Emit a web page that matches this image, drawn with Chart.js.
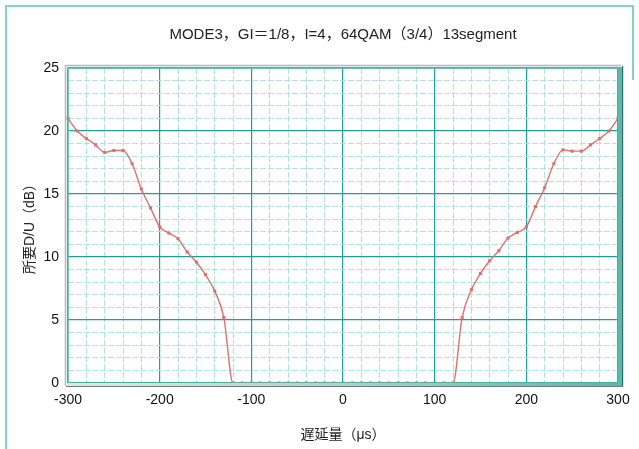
<!DOCTYPE html>
<html>
<head>
<meta charset="utf-8">
<script src="https://cdn.jsdelivr.net/npm/chart.js@4/dist/chart.umd.min.js"></script>
<style>
  html, body { margin: 0; padding: 0; background: #fff; }
  #wrap { width: 639px; height: 449px; position: relative; }
</style>
</head>
<body>
<div id="wrap"><canvas id="chart" width="639" height="449"></canvas></div>
<script>
// delay (us) and required D/U (dB)
const delays = [-300, -290, -280, -270, -260, -250, -240, -230, -220, -210,
  -200, -190, -180, -170, -160, -150, -140, -130, -120, -110,
  -100, -90, -80, -70, -60, -50, -40, -30, -20, -10,
  0, 10, 20, 30, 40, 50, 60, 70, 80, 90,
  100, 110, 120, 130, 140, 150, 160, 170, 180, 190,
  200, 210, 220, 230, 240, 250, 260, 270, 280, 290, 300];
const requiredDU = [21, 20, 19.4, 18.9, 18.3, 18.45, 18.45, 17.4, 15.4, 13.9,
  12.4, 11.9, 11.45, 10.4, 9.6, 8.6, 7.3, 5.2, 0, 0,
  0, 0, 0, 0, 0, 0, 0, 0, 0, 0,
  0, 0, 0, 0, 0, 0, 0, 0, 0, 0,
  0, 0, 0, 5.2, 7.4, 8.7, 9.7, 10.5, 11.5, 11.95,
  12.4, 14.0, 15.5, 17.4, 18.5, 18.4, 18.4, 18.9, 19.4, 20, 21];
const xTickLabels = [-300, -200, -100, 0, 100, 200, 300];
const yTickLabels = [0, 5, 10, 15, 20, 25];

const titleText = "MODE3，GI＝1/8，I=4，64QAM（3/4）13segment";
const FONT = "'Liberation Sans', 'Noto Sans CJK JP', sans-serif";
const MAJOR = "#1d9e96";
const MINOR = "#b3e1dd";

// page border, title over the plot area and the 3d-ish plot frame
const framePlugin = {
  id: "frame",
  beforeDraw(chart) {
    const ctx = chart.ctx;
    ctx.save();
    ctx.fillStyle = "#fff";
    ctx.fillRect(0, 0, chart.width, chart.height);
    ctx.strokeStyle = "#86d0cc";
    ctx.lineWidth = 2;
    ctx.beginPath();
    ctx.moveTo(6, chart.height);
    ctx.lineTo(6, 6);
    ctx.lineTo(633, 6);
    ctx.lineTo(633, 80);
    ctx.stroke();
    const { left, right } = chart.chartArea;
    ctx.fillStyle = "#222";
    ctx.font = "15px " + FONT;
    ctx.textAlign = "center";
    ctx.textBaseline = "middle";
    ctx.fillText(titleText, (left + right) / 2, 35);
    ctx.restore();
  },
  afterDraw(chart) {
    const { left, right, top, bottom } = chart.chartArea;
    const ctx = chart.ctx;
    ctx.save();
    // outer gray edge top/left
    ctx.strokeStyle = "#b8b8b8";
    ctx.lineWidth = 1.5;
    ctx.beginPath();
    ctx.moveTo(left - 2.5, bottom + 3);
    ctx.lineTo(left - 2.5, top - 2.5);
    ctx.lineTo(right + 3, top - 2.5);
    ctx.stroke();
    // teal inner border
    ctx.strokeStyle = "#4fb8ae";
    ctx.lineWidth = 1.5;
    ctx.strokeRect(left, top, right - left, bottom - top);
    // thick right band
    ctx.fillStyle = "#5fb6ac";
    ctx.fillRect(right, top - 1, 4, bottom - top + 4);
    ctx.fillStyle = "#2e6e68";
    ctx.fillRect(right + 4, top - 2, 1.2, bottom - top + 6);
    // bottom band with gradient
    const g = ctx.createLinearGradient(left, 0, right, 0);
    g.addColorStop(0, "#dfe7e6");
    g.addColorStop(0.5, "#a9d3cf");
    g.addColorStop(1, "#5fb6ac");
    ctx.fillStyle = g;
    ctx.fillRect(left - 1, bottom, right - left + 5, 3);
    ctx.fillStyle = "#6f7a79";
    ctx.fillRect(left - 2, bottom + 3, right - left + 7, 1);
    ctx.restore();
  }
};

const isMajorX = v => v % 100 === 0;
const isMajorY = v => v % 5 === 0;

new Chart(document.getElementById("chart"), {
  type: "line",
  data: {
    labels: delays,
    datasets: [{
      data: delays.map((d, i) => ({ x: d, y: requiredDU[i] })),
      borderColor: "#d87470",
      backgroundColor: "#d87470",
      borderWidth: 1.4,
      pointStyle: "rect",
      pointRadius: 2.2,
      pointBorderWidth: 0,
      cubicInterpolationMode: "monotone",
      clip: false
    }]
  },
  plugins: [framePlugin],
  options: {
    responsive: false,
    animation: false,
    layout: { padding: { left: 0, right: 21, top: 68, bottom: 0 } },
    plugins: {
      legend: { display: false },
      tooltip: { enabled: false },
      title: { display: false }
    },
    scales: {
      x: {
        type: "linear",
        min: -300,
        max: 300,
        afterFit(scale) { scale.height = 66; },
        afterBuildTicks(scale) {
          const t = [];
          for (let v = -300; v <= 300; v += 20) t.push({ value: v });
          scale.ticks = t;
        },
        ticks: {
          autoSkip: false,
          maxRotation: 0,
          padding: 9,
          color: "#111",
          font: { family: FONT, size: 14 },
          callback: v => xTickLabels.includes(v) ? String(v) : ""
        },
        grid: {
          drawTicks: false,
          color: c => isMajorX(c.tick.value) ? MAJOR : MINOR,
          lineWidth: c => isMajorX(c.tick.value) ? 1.2 : 1
        },
        border: {
          display: false,
          dash: c => (c.tick && !isMajorX(c.tick.value)) ? [6, 2] : []
        },
        title: {
          display: true,
          text: "遅延量（μs）",
          color: "#222",
          font: { family: FONT, size: 14 },
          padding: { top: 0, bottom: 5 }
        }
      },
      y: {
        min: 0,
        max: 25,
        afterFit(scale) { scale.width = 68; },
        afterBuildTicks(scale) {
          const t = [];
          for (let v = 0; v <= 25; v += 1) t.push({ value: v });
          scale.ticks = t;
        },
        ticks: {
          autoSkip: false,
          padding: 9,
          color: "#111",
          font: { family: FONT, size: 14 },
          callback: v => yTickLabels.includes(v) ? String(v) : ""
        },
        grid: {
          drawTicks: false,
          color: c => isMajorY(c.tick.value) ? MAJOR : MINOR,
          lineWidth: c => isMajorY(c.tick.value) ? 1.2 : 1
        },
        border: {
          display: false,
          dash: c => (c.tick && !isMajorY(c.tick.value)) ? [6, 2] : []
        },
        title: {
          display: true,
          text: "所要D/U（dB）",
          color: "#222",
          font: { family: FONT, size: 14 },
          padding: { top: 22, bottom: 0 }
        }
      }
    }
  }
});
</script>
</body>
</html>
